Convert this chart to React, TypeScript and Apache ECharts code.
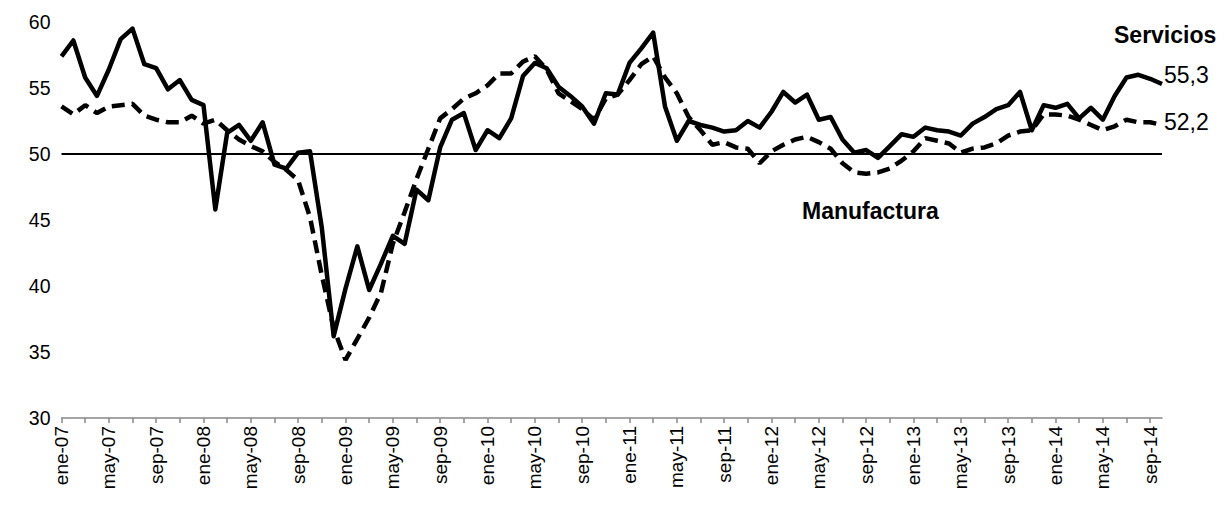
import React, { useEffect, useRef } from "react";
import * as echarts from "echarts";

const monthNames = ["ene", "feb", "mar", "abr", "may", "jun", "jul", "ago", "sep", "oct", "nov", "dic"];
const years = ["07", "08", "09", "10", "11", "12", "13", "14"];
const lastMonthIndex2014 = 9; // through oct-14

const categories: string[] = [];
years.forEach((y, yi) => {
  monthNames.forEach((m, mi) => {
    if (yi === years.length - 1 && mi > lastMonthIndex2014) return;
    categories.push(`${m}-${y}`);
  });
});

const servicios = [
  57.4, 58.6, 55.8, 54.4, 56.4, 58.7, 59.5, 56.8, 56.5, 54.9, 55.6, 54.1,
  53.7, 45.8, 51.6, 52.2, 51.0, 52.4, 49.2, 48.9, 50.1, 50.2, 44.4, 36.2,
  39.8, 43.0, 39.7, 41.7, 43.8, 43.2, 47.3, 46.5, 50.5, 52.6, 53.1, 50.3,
  51.8, 51.2, 52.7, 55.9, 56.9, 56.5, 55.1, 54.4, 53.6, 52.3, 54.6, 54.5,
  56.9, 58.0, 59.2, 53.6, 51.0, 52.5, 52.2, 52.0, 51.7, 51.8, 52.5, 52.0,
  53.2, 54.7, 53.9, 54.5, 52.6, 52.8, 51.1, 50.1, 50.3, 49.7, 50.6, 51.5,
  51.3, 52.0, 51.8, 51.7, 51.4, 52.3, 52.8, 53.4, 53.7, 54.7, 51.8, 53.7,
  53.5, 53.8, 52.7, 53.5, 52.6, 54.4, 55.8, 56.0, 55.7, 55.3,
];

const manufactura = [
  53.6, 53.0, 53.7, 53.1, 53.6, 53.7, 53.8, 52.9, 52.6, 52.4, 52.4, 52.9,
  52.3, 52.6, 51.8, 51.1, 50.6, 50.2, 49.4, 48.8, 48.0, 45.2, 40.8, 36.8,
  34.4, 36.0, 37.6, 39.5, 43.2, 45.6, 48.1, 50.4, 52.7, 53.4, 54.2, 54.6,
  55.2, 56.1, 56.1, 57.0, 57.4, 56.4, 54.6, 54.0, 53.4, 52.6, 54.2, 54.5,
  55.6, 56.8, 57.4, 55.8, 54.6, 52.8, 51.8, 50.7, 50.9, 50.5, 50.4, 49.3,
  50.2, 50.7, 51.1, 51.3, 50.9, 50.4, 49.3, 48.6, 48.5, 48.6, 48.9, 49.5,
  50.2, 51.2, 51.0, 50.8, 50.1, 50.4, 50.5, 50.8, 51.4, 51.7, 51.8, 53.0,
  53.0, 52.9, 52.6, 52.2, 51.8, 52.1, 52.6, 52.4, 52.4, 52.2,
];

const referenceLevel = 50;
const yMin = 30;
const yMax = 60;
const yStep = 5;

const FONT = "'Liberation Sans', Arial, sans-serif";

const fmt = (v: number) => v.toFixed(1).replace(".", ",");

export default function App() {
  const ref = useRef<HTMLDivElement>(null);

  useEffect(() => {
    if (!ref.current) return;
    const chart = echarts.init(ref.current, undefined, { renderer: "svg" });
    chart.setOption({
      animation: false,
      backgroundColor: "#fff",
      grid: { left: 61.5, right: 65, top: 22, bottom: 88, containLabel: false },
      xAxis: {
        type: "category",
        data: categories,
        boundaryGap: false,
        axisLine: { show: true, lineStyle: { color: "#888", width: 1.5 } },
        axisTick: { show: true, interval: 1, length: 5, lineStyle: { color: "#888", width: 1.5 } },
        axisLabel: {
          interval: 3,
          rotate: 90,
          color: "#000",
          fontSize: 19,
          fontFamily: FONT,
          margin: 8,
        },
        splitLine: { show: false },
      },
      yAxis: {
        type: "value",
        min: yMin,
        max: yMax,
        interval: yStep,
        axisLine: { show: false },
        axisTick: { show: false },
        splitLine: { show: false },
        axisLabel: { color: "#000", fontSize: 19.5, fontFamily: FONT, margin: 11 },
      },
      series: [
        {
          name: "Servicios",
          type: "line",
          data: servicios,
          symbol: "none",
          lineStyle: { color: "#000", width: 4.5, join: "round" },
          z: 3,
          endLabel: {
            show: true,
            distance: 2,
            offset: [0, -9],
            formatter: (p: any) => fmt(p.value),
            color: "#000",
            fontSize: 23,
            fontFamily: FONT,
          },
          markLine: {
            silent: true,
            symbol: "none",
            label: { show: false },
            lineStyle: { color: "#000", type: "solid", width: 2 },
            data: [{ yAxis: referenceLevel }],
          },
        },
        {
          name: "Manufactura",
          type: "line",
          data: manufactura,
          symbol: "none",
          lineStyle: { color: "#000", width: 4.5, type: [13, 7], cap: "butt" },
          z: 2,
          endLabel: {
            show: true,
            distance: 2,
            offset: [0, -3],
            formatter: (p: any) => fmt(p.value),
            color: "#000",
            fontSize: 23,
            fontFamily: FONT,
          },
        },
      ],
      graphic: [
        {
          type: "text",
          left: 1114,
          top: 23,
          style: { text: "Servicios", font: `bold 23px ${FONT}`, fill: "#000" },
        },
        {
          type: "text",
          left: 802,
          top: 199,
          style: { text: "Manufactura", font: `bold 23px ${FONT}`, fill: "#000" },
        },
      ],
    });
    return () => chart.dispose();
  }, []);

  return (
    <div
      ref={ref}
      style={{ position: "fixed", left: 0, top: 0, width: 1227, height: 506, background: "#fff" }}
    />
  );
}
